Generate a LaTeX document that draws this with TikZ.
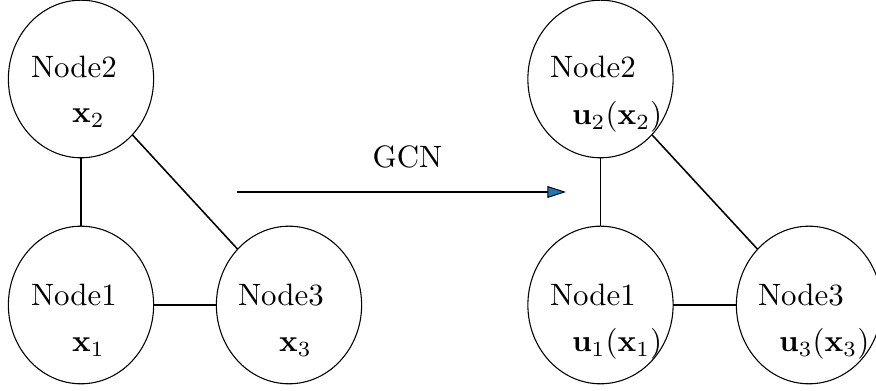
\documentclass[tikz,border=0pt]{standalone}
\usetikzlibrary{shapes.geometric,arrows.meta}
\definecolor{tipblue}{RGB}{31,119,180}
\begin{document}
\begin{tikzpicture}[x=0.3236pt,y=-0.3236pt,
  gnode/.style={draw,ellipse,line width=0.35pt,minimum width=47pt,minimum height=51pt,inner sep=0pt,outer sep=0pt},
  lbl/.style={anchor=base west,inner sep=0pt,outer sep=0pt},
  edge/.style={line width=0.5pt},
  flow/.style={line width=0.6pt,-{Triangle[length=6pt,width=3.8pt,fill=tipblue,line width=0.3pt]}}]
\useasboundingbox (0,0) rectangle (876,391);
% left graph
\node[gnode] (l2) at (81,79) {};
\node[gnode] (l1) at (81,305) {};
\node[gnode] (l3) at (289,305) {};
\node[lbl] (l2a) at (31,78) {Node2};
\node[lbl] (l2b) at (72,123) {$\mathbf{x}_2$};
\node[lbl] (l1a) at (31,306) {Node1};
\node[lbl] (l1b) at (72,352) {$\mathbf{x}_1$};
\node[lbl] (l3a) at (238,306) {Node3};
\node[lbl] (l3b) at (279,352) {$\mathbf{x}_3$};
\draw[edge] (l2) -- (l1);
\draw[edge] (l2) -- (l3);
\draw[edge] (l1) -- (l3);
% arrow
\coordinate (a1) at (237,192);
\coordinate (a2) at (566,192);
\draw[flow] (a1) -- (a2);
\node[anchor=base,inner sep=0pt] (gcn) at (407.5,168) {GCN};
% right graph
\node[gnode] (r2) at (600.5,79) {};
\node[gnode] (r1) at (600.5,305) {};
\node[gnode] (r3) at (809,305) {};
\node[lbl] (r2a) at (550,78) {Node2};
\node[lbl] (r2b) at (572,125) {$\mathbf{u}_2(\mathbf{x}_2)$};
\node[lbl] (r1a) at (550,306) {Node1};
\node[lbl] (r1b) at (572,352) {$\mathbf{u}_1(\mathbf{x}_1)$};
\node[lbl] (r3a) at (758,306) {Node3};
\node[lbl] (r3b) at (779,352) {$\mathbf{u}_3(\mathbf{x}_3)$};
\draw[edge] (r2) -- (r1);
\draw[edge] (r2) -- (r3);
\draw[edge] (r1) -- (r3);
\end{tikzpicture}
\end{document}
